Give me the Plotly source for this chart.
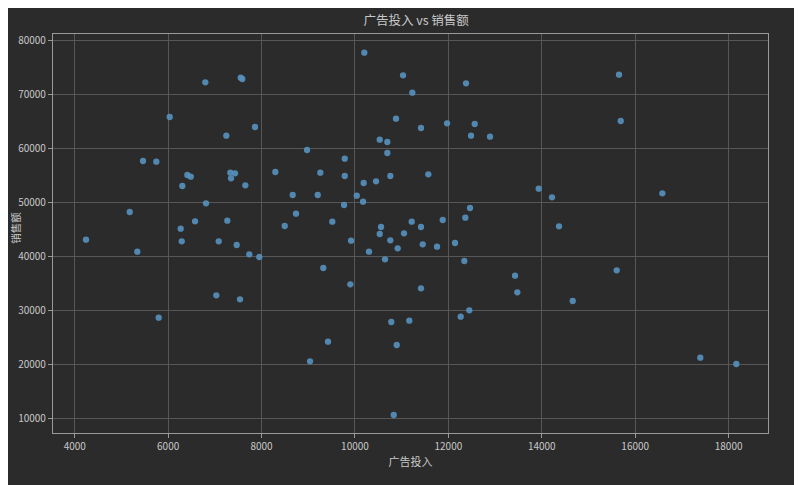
import plotly.graph_objects as go

ad_spend = [
    6796, 6034, 7246, 5462, 5747, 6411, 6484, 7331, 7432, 7346,
    6304, 6811, 5178, 6576, 7267, 6269, 4242, 5340, 6291, 7083,
    7468, 7032, 5798, 10200, 11029, 7554, 7588, 10879, 7860, 10530,
    10693, 8974, 10693, 9781, 8295, 9258, 9781, 10757, 10187, 10451,
    7653, 8667, 9203, 10038, 10173, 9766, 8738, 8496, 9515, 10558,
    10530, 11050, 9916, 10757, 10915, 10301, 7738, 7952, 10643, 9322,
    9901, 7539, 10778, 11164, 10894, 9423, 9038, 10830, 12378, 11228,
    11971, 12564, 11414, 12485, 12892, 11571, 13934, 14219, 12463, 12363,
    11879, 11215, 11414, 14369, 11451, 11757, 12142, 12341, 13427, 13476,
    11414, 14662, 12448, 12264, 15653, 15690, 16581, 15604, 17394, 18165,
]
sales = [
    72187, 65778, 62324, 57651, 57522, 55065, 54752, 55490, 55379, 54456,
    53034, 49838, 48232, 46514, 46625, 45147, 43115, 40899, 42820, 42820,
    42136, 32846, 28709, 77654, 73480, 73037, 72797, 65464, 63931, 61585,
    61161, 59683, 59129, 58076, 55620, 55490, 54881, 54881, 53588, 53902,
    53163, 51371, 51371, 51242, 50134, 49524, 47918, 45646, 46440, 45461,
    44168, 44297, 42931, 43005, 41527, 40899, 40419, 39920, 39495, 37888,
    34878, 32107, 27915, 28155, 23666, 24276, 20656, 10737, 72002, 70266,
    64614, 64485, 63746, 62324, 62139, 55195, 52535, 50947, 48970, 47179,
    46754, 46440, 45461, 45590, 42266, 41823, 42506, 39181, 36466, 33400,
    34139, 31793, 30076, 28894, 73591, 65039, 51685, 37464, 21321, 20157,
]
x_ticks = [4000, 6000, 8000, 10000, 12000, 14000, 16000, 18000]
y_ticks = [10000, 20000, 30000, 40000, 50000, 60000, 70000, 80000]

FONT = "Noto Sans CJK SC, Microsoft YaHei, sans-serif"
BG = "#2b2b2b"
GRID = "#575757"
FRAME = "#9a9a9a"
TXT = "#c8c8c8"

fig = go.Figure(
    go.Scatter(
        x=ad_spend, y=sales, mode="markers",
        marker=dict(size=6.3, color="rgba(86,145,190,0.9)", line=dict(width=0)),
        hoverinfo="x+y",
    )
)

axis_common = dict(
    showgrid=True, gridcolor=GRID, gridwidth=1,
    showline=True, linecolor=FRAME, linewidth=1.2, mirror=True,
    ticks="outside", ticklen=4, tickcolor=FRAME, tickwidth=1,
    tickfont=dict(family=FONT, size=10, color=TXT),
    zeroline=False, automargin=False,
)

fig.update_layout(
    width=794, height=477,
    paper_bgcolor=BG, plot_bgcolor=BG,
    margin=dict(l=45, r=34, t=26, b=52, autoexpand=False),
    showlegend=False,
    title=dict(text="广告投入 vs 销售额", x=0.514, xanchor="center", y=0.973, yanchor="middle",
               font=dict(family=FONT, size=12.5, color=TXT), automargin=False),
    xaxis=dict(range=[3535, 18843], tickvals=x_ticks, ticktext=[str(v) for v in x_ticks],
               title=dict(text="广告投入", font=dict(family=FONT, size=11, color=TXT), standoff=6),
               **axis_common),
    yaxis=dict(range=[7410, 81108], tickvals=y_ticks, ticktext=[str(v) for v in y_ticks],
               **axis_common),
    annotations=[dict(text="销售额", textangle=-90, xref="paper", yref="paper",
                      x=-0.052, y=0.514, xanchor="center", yanchor="middle", showarrow=False,
                      font=dict(family=FONT, size=10.5, color=TXT))],
)

fig.write_html("out.html")
